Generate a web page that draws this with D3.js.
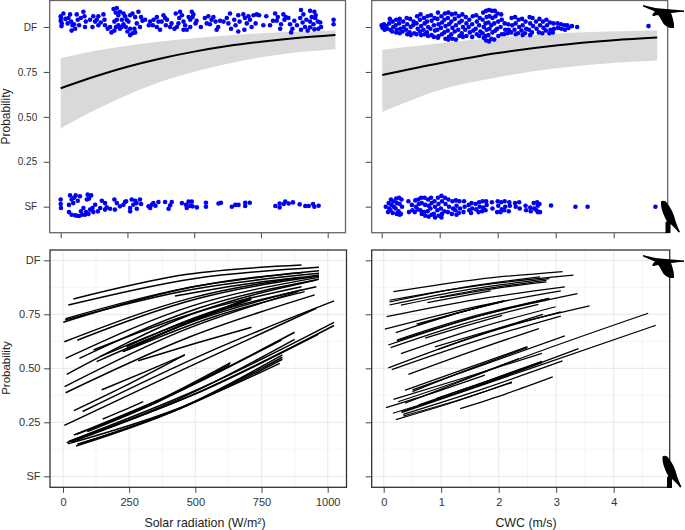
<!DOCTYPE html>
<html><head><meta charset="utf-8">
<script src="https://cdn.jsdelivr.net/npm/d3@7"></script>
<style>html,body{margin:0;padding:0;background:#fff}svg{display:block}</style>
</head><body><svg id="c" width="685" height="530"></svg>
<script>
const probTicks=[0,0.25,0.5,0.75,1];
const probLabels=["SF","0.25","0.50","0.75","DF"];
const solarTicks=[0,250,500,750,1000];
const cwcTicks=[0,1,2,3,4];
const solarMinor=[125,375,625,875];
const cwcMinor=[0.5,1.5,2.5,3.5,4.5];
const probMinor=[0.125,0.375,0.625,0.875];
const solarTitle="Solar radiation (W/m²)";
const cwcTitle="CWC (m/s)";
const yTitle="Probability";

// fitted curves, top row
const solarFit=[[0,.659],[125,.723],[250,.779],[375,.825],[500,.863],[625,.894],[750,.918],[875,.937],[1029,.955]];
const solarUpper=[[0,.826],[125,.866],[250,.896],[375,.919],[500,.937],[625,.953],[750,.965],[875,.973],[1029,.98]];
const solarLower=[[0,.436],[125,.535],[250,.622],[375,.695],[500,.751],[625,.796],[750,.831],[875,.857],[1029,.876]];
const cwcFit=[[.01,.733],[1,.798],[2,.855],[3,.897],[4,.926],[4.75,.941]];
const cwcUpper=[[.01,.872],[1,.909],[2,.941],[3,.963],[4,.976],[4.75,.981]];
const cwcLower=[[.01,.527],[1,.649],[2,.72],[3,.77],[4,.8],[4.75,.813]];

// jittered observations, solar radiation, direct flights
const solarDF=[[0,1.06],[1,1.05],[0,1.035],[4,1.02],[3,1.005],[35,1.07],[29,1.05],[26,1.02],[39,1.03],[44,1.01],[41,.98],[54,.99],[64,1.04],[60,1.07],[69,1.01],[85,1.085],[89,1.06],[94,1.03],[91,1],[122,1.06],[129,1.03],[135,1.04],[119,1],[141,1.01],[141,1.06],[160,1.07],[164,1.04],[166,1.01],[176,.99],
[198,1.1],[210,1.105],[206,1.08],[216,1.065],[222,1.085],[235,1.075],[201,1.03],[210,1.04],[207,1],[216,1.01],[201,.98],[222,.99],[229,1.04],[241,1.06],[247,1.04],[235,1.015],[244,1],[254,1.03],[260,1.065],[269,1.075],[279,1.055],[291,1.085],[301,1.055],[306,1.035],[285,1.02],[276,.99],[269,.965],[260,.955],[279,.97],[260,.99],[297,1],[316,1.04],
[335,1.03],[348,1.04],[360,1.055],[366,1.03],[360,1],[372,.985],[385,1.065],[391,1.05],[398,1.04],[394,1.01],[410,1],[426,.99],[431,1.075],[447,1.085],[444,1.05],[454,1.065],[441,1.02],[460,1.03],[466,1.01],[472,.985],[479,1.055],[491,1.085],[485,1.04],[494,1.055],[485,1],[460,.985],[497,1.07],
[509,1.035],[540,1.05],[553,1.06],[547,1.02],[559,1.015],[572,1.055],[580,1.03],[590,1],[584,.985],[597,1.035],[622,1.05],[628,1.02],[634,1.075],[638,.99],[650,1.04],[655,1.01],[665,.975],[665,1.065],[684,1.07],[690,1.05],[697,1.02],[703,1.06],[688,.985],[709,1.04],[722,1.065],[734,1.07],[743,1.065],[715,1],[759,1.01],[784,1.01],[803,1.075],[813,1.055],[809,1.035],[825,1.015],[834,1.07],[843,1.055],[838,1.04],[822,.99],[853,1.05],[859,1.015],[868,.99],[875,1.035],[863,.97],[900,1.095],[909,1.07],[897,1.05],[906,1.025],[900,.985],[915,1],[934,1.09],[950,1.085],[940,1.055],[953,1.05],[934,1.03],[947,1.015],[963,1.03],[972,1.025],[934,.998],[950,.987],[965,.99],[925,.98],[1022,1.04],[1022,1.015],
[10,1.075],[18,1.045],[50,1.015],[75,1.05],[110,1.04],[150,1.025],[185,1.0],[190,.97],[228,1.0],[250,.975],[330,1.01],[345,1.01],[378,1.03],[415,1.02],[435,1.0],[505,1.02],[525,1.0],[565,1.04],[610,1.03],[670,1.03],[730,1.02],[770,1.06],[795,1.035],[885,1.01],[920,1.04],[975,1.0],[955,1.065]];
// solar radiation, soaring flights
const solarSF=[[0,.04],[0,.015],[1,-.007],[35,.063],[41,.04],[31,.01],[56,.063],[64,.033],[47,.02],[101,.067],[114,.063],[98,.04],[106,.045],[31,-.03],[41,-.045],[54,-.048],[69,-.052],[76,-.026],[85,-.007],[91,-.045],[104,-.04],[110,-.016],[119,-.007],[129,.011],[139,-.026],[148,-.007],[154,.033],[166,.02],[166,-.016],[185,-.011],[201,.04],[210,.02],[203,-.016],[222,.002],[235,.011],[241,.026],[260,-.007],[266,.04],[272,.011],[279,.033],[285,-.011],[297,.04],[301,.015],[260,-.026],[329,.002],[341,.011],[347,.02],[335,-.007],[366,.026],[391,.026],[410,.008],[416,.026],[404,-.011],[454,.02],[469,.011],[479,.028],[491,.028],[485,.004],[494,.002],[472,-.007],[510,-.004],[544,.022],[544,0],[591,.018],[600,.022],[641,0],[654,.01],[666,.01],[691,.004],[691,.022],[708,.022],[804,.004],[820,.018],[820,-.004],[835,.015],[841,.028],[854,.018],[870,.024],[895,.013],[916,.004],[929,.004],[945,.015],[950,0],[966,.005],
[50,.05],[72,.058],[62,-.05],[80,-.045],[95,-.03],[122,-.03],[172,-.004],[245,.03],[284,.02],[355,.005]];
// cross-wind component, direct flights
const cwcDF=[[0,1.01],[.01,1],[.02,.995],[.04,1.015],[.05,.985],[.08,1.005],[.09,.99],[.14,1.045],[.13,1.02],[.15,.985],[.19,1.03],[.2,1],[.18,.975],[.25,1.04],[.24,1.01],[.26,.985],[.25,.97],[.31,1.045],[.3,1.02],[.32,.99],[.31,.965],[.37,1.03],[.38,1],[.36,.975],[.43,1.05],[.44,1.015],[.42,.985],[.44,.96],[.49,1.045],[.5,1],[.48,.97],[.5,.955],[.55,1.03],[.54,1.01],[.56,.965],[.61,1.06],[.6,1.02],[.62,.99],[.6,.96],[.67,1.07],[.66,1.04],[.68,1.005],[.66,.975],[.68,.955],[.73,1.05],[.74,1.02],[.72,.985],[.74,.96],[.79,1.06],[.78,1.03],[.8,1],[.78,.97],[.8,.95],[.85,1.065],[.86,1.035],[.84,.99],[.86,.955],[.91,1.05],[.9,1.01],[.92,.98],[.9,.945],[.97,1.08],[.96,1.045],[.98,1.015],[.96,.985],[.98,.95],[.97,.94],[1.03,1.06],[1.04,1.025],[1.02,.995],[1.04,.96],[1.09,1.075],[1.08,1.04],[1.1,1.005],[1.08,.97],[1.1,.935],[1.15,1.08],[1.14,1.05],[1.16,1.015],[1.14,.98],[1.16,.945],[1.15,.93],[1.21,1.07],[1.2,1.03],[1.22,.995],[1.2,.96],[1.22,.935],[1.27,1.075],[1.26,1.045],[1.28,1.01],[1.26,.975],[1.28,.93],[1.33,1.06],[1.34,1.025],[1.32,.985],[1.34,.95],[1.39,1.07],[1.38,1.035],[1.4,1],[1.38,.965],[1.4,.945],[1.45,1.055],[1.46,1.02],[1.44,.985],[1.46,.95],[1.51,1.04],[1.5,1],[1.52,.97],[1.57,1.06],[1.56,1.015],[1.58,.98],[1.56,.945],[1.63,1.065],[1.64,1.03],[1.62,.99],[1.64,.96],[1.69,1.05],[1.68,1.01],[1.7,.975],[1.68,.95],[1.75,1.08],[1.74,1.04],[1.76,1],[1.74,.965],[1.76,.94],[1.8,1.09],[1.81,1.055],[1.79,1.02],[1.81,.985],[1.79,.95],[1.8,.925],[1.85,1.095],[1.86,1.06],[1.84,1.025],[1.86,.99],[1.84,.955],[1.85,.92],[1.9,1.09],[1.91,1.05],[1.89,1.01],[1.91,.97],[1.89,.935],[1.95,1.09],[1.96,1.06],[1.94,1.02],[1.96,.98],[1.94,.93],[2,1.075],[2.01,1.03],[1.99,.99],[2.01,.95],[2.06,1.07],[2.07,1.04],[2.05,1],[2.07,.96],[2.12,1.02],[2.13,.985],[2.11,.96],[2.18,1.015],[2.19,.985],[2.17,.965],[2.24,1.05],[2.25,1.01],[2.23,.97],[2.3,1.055],[2.31,1.02],[2.29,.985],[2.31,.96],[2.36,1.04],[2.37,1],[2.35,.965],[2.42,1.045],[2.43,1.01],[2.41,.98],[2.43,.955],[2.48,1.03],[2.49,.99],[2.47,.965],[2.55,1.055],[2.56,1.02],[2.54,.985],[2.56,.955],[2.6,1.05],[2.61,1.005],[2.59,.97],[2.66,1.03],[2.67,.99],[2.72,1.045],[2.73,1.01],[2.71,.97],[2.78,1.03],[2.79,.995],[2.77,.965],[2.84,1.04],[2.85,1.01],[2.83,.98],[2.9,1.025],[2.91,.985],[2.89,.965],[2.96,1.02],[2.97,.99],[2.95,.97],[3.03,1.02],[3.04,.995],[3.09,1.015],[3.1,.99],[3.15,1.01],[3.16,.985],[3.2,1.01],[3.22,.995],[3.28,1.005],[3.37,1],[4.6,1.005]];
// cross-wind component, soaring flights
const cwcSF=[[.07,0],[.12,.02],[.13,-.01],[.11,-.03],[.16,.04],[.17,.01],[.15,-.02],[.2,.03],[.21,0],[.19,-.035],[.25,.045],[.26,.02],[.24,-.01],[.26,-.04],[.3,.05],[.31,.015],[.29,-.025],[.31,-.045],[.34,.04],[.35,0],[.33,-.04],[.46,.03],[.47,-.03],[.52,.01],[.53,-.02],[.58,.035],[.59,0],[.57,-.03],[.63,.04],[.64,.015],[.62,-.015],[.68,.05],[.69,.02],[.67,-.02],[.69,-.04],[.74,.05],[.75,.01],[.73,-.03],[.75,-.05],[.8,.04],[.81,.005],[.79,-.025],[.81,-.055],[.85,.05],[.86,.02],[.84,-.01],[.86,-.045],[.91,.03],[.92,0],[.9,-.04],[.92,-.06],[.97,.05],[.98,.015],[.96,-.02],[.98,-.05],[1.03,.06],[1.04,.03],[1.02,-.01],[1.04,-.04],[1.03,-.06],[1.09,.05],[1.1,.015],[1.08,-.025],[1.15,.04],[1.16,0],[1.14,-.03],[1.22,.03],[1.23,-.01],[1.21,-.04],[1.28,.035],[1.29,.005],[1.27,-.02],[1.29,-.045],[1.34,.03],[1.35,-.01],[1.33,-.035],[1.42,.03],[1.43,0],[1.41,-.03],[1.5,.01],[1.51,-.02],[1.55,.02],[1.56,-.01],[1.54,-.035],[1.62,.015],[1.63,-.015],[1.68,.025],[1.69,0],[1.67,-.03],[1.74,.03],[1.75,-.005],[1.73,-.025],[1.8,.03],[1.81,.01],[1.79,-.02],[1.9,.025],[1.91,-.01],[2,.03],[2.01,.005],[1.99,-.03],[2.06,.025],[2.07,-.015],[2.05,-.03],[2.12,.03],[2.13,0],[2.11,-.02],[2.2,.025],[2.21,.005],[2.19,-.025],[2.3,.02],[2.31,0],[2.37,.025],[2.38,-.01],[2.48,.005],[2.49,-.02],[2.56,-.005],[2.57,-.025],[2.62,.02],[2.63,-.01],[2.68,.025],[2.69,.005],[2.67,-.02],[2.69,-.03],[2.72,.015],[2.73,-.03],[2.92,.007],[3.34,0],[3.55,0],[4.72,0]];

// individual predictions, bottom row: start, middle, end
const solarLines=[
[[39,.821],[470,.935],[901,.978]],[[20,.793],[493,.915],[967,.968]],[[1,.713],[484,.875],[967,.952]],[[8,.724],[487,.865],[967,.94]],[[10,.73],[458,.87],[907,.943]],[[5,.623],[486,.826],[967,.932]],[[54,.63],[510,.823],[967,.927]],[[10,.546],[488,.789],[967,.921]],[[62,.546],[514,.779],[967,.912]],[[115,.585],[508,.761],[901,.878]],[[14,.472],[485,.75],[957,.909]],[[127,.531],[514,.727],[901,.863]],[[228,.577],[570,.739],[913,.855]],[[6,.415],[447,.672],[888,.855]],[[10,.387],[480,.646],[951,.84]],[[284,.535],[498,.615],[712,.69]],[[146,.4],[303,.48],[460,.562]],[[41,.304],[250,.428],[460,.562]],[[74,.3],[549,.575],[1024,.812]],[[5,.236],[481,.51],[957,.778]],
[[41,.191],[458,.407],[875,.667]],[[92,.21],[458,.404],[825,.631]],[[52,.194],[342,.341],[633,.526]],[[92,.207],[361,.346],[630,.518]],[[14,.156],[444,.361],[875,.634]],[[20,.16],[492,.377],[964,.657]],[[24,.163],[524,.41],[1024,.713]],[[33,.159],[528,.398],[1024,.698]],[[49,.14],[439,.313],[829,.562]],[[70,.153],[450,.32],[829,.551]],[[54,.148],[441,.312],[829,.542]],[[18,.15],[418,.306],[819,.523]],[[150,.265],[226,.304],[303,.346]],[[225,.577],[468,.71],[712,.829]],[[240,.59],[476,.712],[712,.82]],[[423,.835],[662,.885],[901,.921]],[[240,.6],[473,.723],[706,.82]],[[140,.554],[548,.75],[957,.878]]];
const cwcLines=[
[[.17,.855],[1.64,.912],[3.11,.948]],[[.1,.815],[1.7,.885],[3.3,.931]],[[.1,.807],[1.41,.876],[2.72,.923]],[[.1,.793],[1.49,.865],[2.88,.915]],[[.3,.792],[1.56,.859],[2.83,.907]],[[.76,.804],[1.31,.832],[1.86,.858]],[[.98,.827],[1.9,.868],[2.83,.9]],[[.05,.739],[1.6,.818],[3.15,.877]],[[.02,.681],[1.55,.782],[3.08,.858]],[[.21,.665],[1.15,.745],[2.08,.812]],[[.57,.704],[1.33,.76],[2.08,.809]],[[.6,.7],[1.35,.76],[2.1,.812]],[[.08,.608],[1.48,.729],[2.88,.824]],[[.23,.627],[1.8,.752],[3.37,.846]],[[.23,.631],[1.55,.74],[2.88,.824]],[[.12,.596],[1.4,.707],[2.69,.796]],[[.72,.64],[1.39,.694],[2.06,.745]],[[.3,.568],[1.65,.687],[2.99,.785]],[[.89,.599],[2.24,.703],[3.58,.789]],[[.95,.588],[2,.681],[3.08,.761]],[[.08,.502],[1.43,.634],[2.77,.75]],[[.14,.494],[1.61,.627],[3.08,.742]],[[.43,.472],[1.57,.582],[2.7,.684]],
[[.37,.398],[1.44,.5],[2.5,.6]],[[.5,.392],[1.5,.497],[2.5,.596]],[[.5,.4],[1.83,.525],[3.15,.65]],[[.17,.356],[1.46,.461],[2.75,.569]],[[.25,.345],[1.3,.44],[2.35,.545]],[[.04,.318],[.9,.39],[1.76,.468]],[[.37,.338],[2.49,.557],[4.6,.755]],[[.16,.292],[1.46,.402],[2.75,.526]],[[.31,.299],[1.85,.44],[3.39,.591]],[[.31,.295],[2.52,.496],[4.73,.699]],[[.34,.287],[1.73,.405],[3.11,.534]],[[.34,.279],[1.29,.352],[2.23,.434]],[[.21,.262],[1.22,.344],[2.23,.437]],[[1.33,.313],[2.14,.383],[2.94,.46]],[[.91,.36],[1.83,.443],[2.75,.529]],[[.6,.33],[1.7,.432],[2.75,.532]]];

const svg=d3.select("#c");
const BLUE="#0000f5",RIBBON="#d9d9d9",TICK="#333",TXT="#333";

function panel(o){
  const g=svg.append("g");
  const x=d3.scaleLinear().domain(o.xd).range(o.xr);
  const y=d3.scaleLinear().domain([0,1]).range(o.yr);
  g.append("rect").attr("x",o.l).attr("y",o.t).attr("width",o.r-o.l).attr("height",o.b-o.t).attr("fill","#fff");
  if(o.grid){
    const gg=g.append("g").attr("fill","none");
    o.xMinor.forEach(v=>gg.append("line").attr("x1",x(v)).attr("x2",x(v)).attr("y1",o.t).attr("y2",o.b).attr("stroke","#f1f1f1").attr("stroke-width",.7));
    probMinor.forEach(v=>gg.append("line").attr("y1",y(v)).attr("y2",y(v)).attr("x1",o.l).attr("x2",o.r).attr("stroke","#f1f1f1").attr("stroke-width",.7));
    o.xTicks.forEach(v=>gg.append("line").attr("x1",x(v)).attr("x2",x(v)).attr("y1",o.t).attr("y2",o.b).attr("stroke","#ebebeb").attr("stroke-width",1.2));
    probTicks.forEach(v=>gg.append("line").attr("y1",y(v)).attr("y2",y(v)).attr("x1",o.l).attr("x2",o.r).attr("stroke","#ebebeb").attr("stroke-width",1.2));
  }
  if(o.upper){
    const area=d3.area().x(d=>x(d[0])).y0((d,i)=>y(o.lower[i][1])).y1(d=>y(d[1])).curve(d3.curveCatmullRom);
    g.append("path").datum(o.upper).attr("d",area).attr("fill",RIBBON);
    const ln=d3.line().x(d=>x(d[0])).y(d=>y(d[1])).curve(d3.curveCatmullRom);
    g.append("path").datum(o.fit).attr("d",ln).attr("fill","none").attr("stroke","#000").attr("stroke-width",2);
    g.selectAll("circle.o").data(o.points).enter().append("circle").attr("cx",d=>x(d[0])).attr("cy",d=>y(d[1])).attr("r",2.3).attr("fill",BLUE);
  }
  if(o.lines){
    const ln=d3.line().x(d=>x(d[0])).y(d=>y(d[1])).curve(d3.curveNatural);
    g.selectAll("path.l").data(o.lines).enter().append("path").attr("d",ln).attr("fill","none").attr("stroke","#000").attr("stroke-width",o.lw);
  }
  const ax=g.append("g").attr("transform",`translate(0,${o.b})`)
    .call(d3.axisBottom(x).tickValues(o.xTicks).tickSize(5.5).tickPadding(5.5).tickFormat(o.xLab?d3.format("d"):""));
  const ay=g.append("g").attr("transform",`translate(${o.l},0)`)
    .call(d3.axisLeft(y).tickValues(probTicks).tickSize(6).tickPadding(o.pad).tickFormat(o.yLab?((d,i)=>probLabels[i]):""));
  [ax,ay].forEach(a=>{a.select(".domain").remove();a.selectAll("line").attr("stroke",TICK).attr("stroke-width",.9);
    a.selectAll("text").attr("fill",TXT).attr("font-family","Liberation Sans, Arial, sans-serif").attr("font-size",o.fs);});
  g.append("rect").attr("x",o.l).attr("y",o.t).attr("width",o.r-o.l).attr("height",o.b-o.t).attr("fill","none").attr("stroke",o.border).attr("stroke-width",1.3);
}

panel({l:49.7,r:345.5,t:.5,b:232.7,xd:[0,1000],xr:[60.7,327.7],yr:[206.7,27],xTicks:solarTicks,xMinor:solarMinor,
  upper:solarUpper,lower:solarLower,fit:solarFit,points:solarDF.concat(solarSF),yLab:true,xLab:false,pad:6.5,fs:10,border:"#666"});
panel({l:371.7,r:667.7,t:.5,b:232.7,xd:[0,4],xr:[381.7,613.7],yr:[206.7,27],xTicks:cwcTicks,xMinor:cwcMinor,
  upper:cwcUpper,lower:cwcLower,fit:cwcFit,points:cwcDF.concat(cwcSF),yLab:false,xLab:false,pad:6,fs:10,border:"#666"});
panel({l:50,r:346.5,t:250,b:487.3,xd:[0,1000],xr:[63,327.7],yr:[476.3,260.3],xTicks:solarTicks,xMinor:solarMinor,grid:true,
  lines:solarLines,lw:1.5,yLab:true,xLab:true,pad:3.5,fs:11,border:"#333"});
panel({l:371.7,r:669.7,t:250,b:487.3,xd:[0,4],xr:[383.7,613.7],yr:[476.3,260.3],xTicks:cwcTicks,xMinor:cwcMinor,grid:true,
  lines:cwcLines,lw:1.25,yLab:false,xLab:true,pad:3.5,fs:11,border:"#333"});

const font="Liberation Sans, Arial, sans-serif";
svg.append("text").attr("transform","translate(9.5,116.5) rotate(-90)").attr("text-anchor","middle").attr("font-family",font).attr("font-size",12).attr("fill","#222").text(yTitle);
svg.append("text").attr("transform","translate(9.5,368) rotate(-90)").attr("text-anchor","middle").attr("font-family",font).attr("font-size",11.5).attr("fill","#222").text(yTitle);
svg.append("text").attr("x",205).attr("y",527).attr("text-anchor","middle").attr("font-family",font).attr("font-size",12.4).attr("fill","#222").text(solarTitle);
svg.append("text").attr("x",526).attr("y",527).attr("text-anchor","middle").attr("font-family",font).attr("font-size",12.4).attr("fill","#222").text(cwcTitle);

// bird silhouettes
const flying="M643,5 C648,6 654,8 660,8.5 C668,9 676,10 684,10.5 L684,12 C679,12 675,12.5 671,13 C672.5,17 674.5,23 674,28 C669,28.5 665,26 663,23 C661,19.5 660,17 658,15 C656,15 654,16.5 652.5,16 C652,14 654,12.5 655,11.5 C651,10 647,8 643,6.5 Z";
const perched="M661,201.5 C663,200 666,201 667,203 C671,208 674,214 675.5,221 C677,225 678.5,229 680,232 L678.5,232.5 C676,229 673.5,226.5 670.5,224 L670.5,233 L665.5,233 L665.5,222 L667,221.5 C664,216 661,209 661,204 Z";
svg.append("path").attr("d",flying);
svg.append("path").attr("d",perched);
svg.append("path").attr("d",flying).attr("transform","translate(0,250)");
svg.append("path").attr("d",perched).attr("transform","translate(1.5,255)");
</script></body></html>
